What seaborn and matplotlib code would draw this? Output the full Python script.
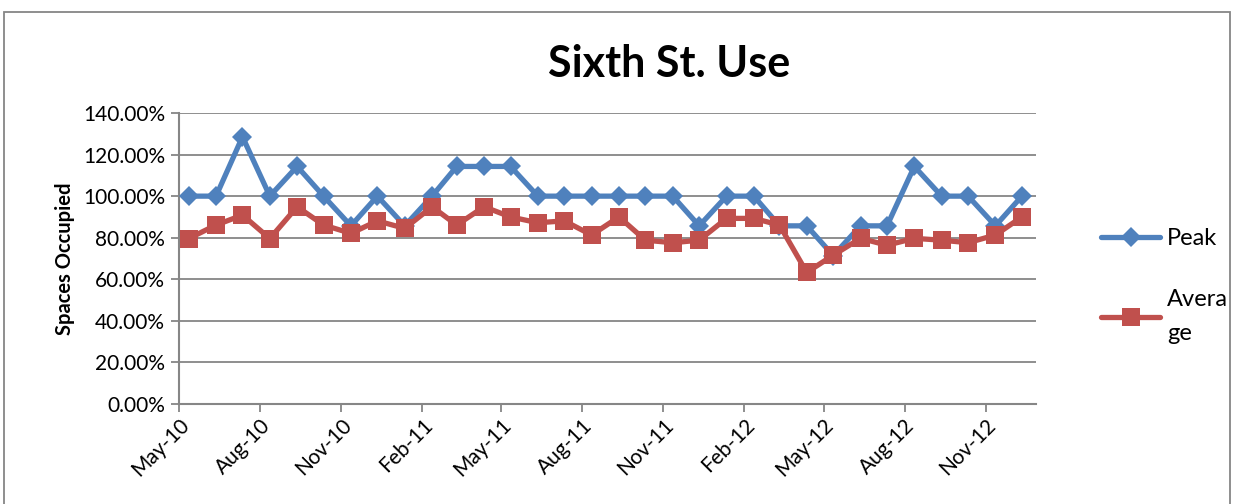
import matplotlib
matplotlib.use("Agg")
import matplotlib.pyplot as plt
import matplotlib.dates as mdates
from matplotlib.patches import Rectangle
from matplotlib.ticker import PercentFormatter, MultipleLocator
import pandas as pd
import seaborn as sns

# monthly readings, May 2010 - Dec 2012
months = ['2010-05', '2010-06', '2010-07', '2010-08', '2010-09', '2010-10',
          '2010-11', '2010-12', '2011-01', '2011-02', '2011-03', '2011-04',
          '2011-05', '2011-06', '2011-07', '2011-08', '2011-09', '2011-10',
          '2011-11', '2011-12', '2012-01', '2012-02', '2012-03', '2012-04',
          '2012-05', '2012-06', '2012-07', '2012-08', '2012-09', '2012-10',
          '2012-11', '2012-12']
peak = [100, 100, 128.57, 100, 114.29, 100, 85.71, 100, 85.71, 100, 114.29, 114.29,
        114.29, 100, 100, 100, 100, 100, 100, 85.71, 100, 100, 85.71, 85.71,
        71.43, 85.71, 85.71, 114.29, 100, 100, 85.71, 100]
average = [79.6, 86.1, 90.9, 79.6, 94.9, 86.1, 82.1, 88.1, 84.5, 94.9, 86.1, 94.9,
           90.0, 87.2, 88.1, 81.3, 90.0, 78.8, 77.6, 78.8, 89.3, 89.3, 86.1, 63.3,
           71.6, 79.7, 76.4, 79.7, 78.8, 77.6, 81.3, 90.0]
series_names = ['Peak', 'Avera\nge']

dates = pd.to_datetime(months) + pd.Timedelta(days=11)
df = pd.concat([
    pd.DataFrame({'month': dates, 'value': peak, 'series': series_names[0]}),
    pd.DataFrame({'month': dates, 'value': average, 'series': series_names[1]}),
])

sns.set_style('white')
plt.rcParams['font.family'] = ['Lato', 'DejaVu Sans']
plt.rcParams['text.color'] = 'black'
plt.rcParams['xtick.color'] = 'black'
plt.rcParams['ytick.color'] = 'black'
plt.rcParams['axes.labelcolor'] = 'black'

blue = '#4F81BD'
red = '#C0504D'
grid_gray = '#868686'

fig = plt.figure(figsize=(12.35, 5.04), dpi=100)
ax = fig.add_axes([179 / 1235, 1 - 404 / 504, (1036 - 179) / 1235, (404 - 113) / 504])

sns.lineplot(data=df[df.series == series_names[0]], x='month', y='value', ax=ax,
             color=blue, marker='D', markersize=10.5, markeredgewidth=0,
             linewidth=3.8, label=series_names[0], zorder=3)
sns.lineplot(data=df[df.series == series_names[1]], x='month', y='value', ax=ax,
             color=red, marker='s', markersize=13, markeredgewidth=0,
             linewidth=3.8, label=series_names[1], zorder=4)

ax.set_ylim(0, 140)
ax.yaxis.set_major_locator(MultipleLocator(20))
ax.yaxis.set_major_formatter(PercentFormatter(xmax=100, decimals=2))
ax.set_xlim(pd.Timestamp('2010-05-01'), pd.Timestamp('2012-12-28'))
ax.xaxis.set_major_locator(mdates.MonthLocator(bymonth=[2, 5, 8, 11]))
ax.xaxis.set_major_formatter(mdates.DateFormatter('%b-%y'))

ax.yaxis.grid(True, color=grid_gray, linewidth=1.3)
ax.set_axisbelow(True)
for side in ['top', 'right']:
    ax.spines[side].set_visible(False)
for side in ['left', 'bottom']:
    ax.spines[side].set_color(grid_gray)
    ax.spines[side].set_linewidth(1.5)

ax.tick_params(axis='both', which='major', color=grid_gray, length=6, width=1.3,
               direction='out', left=True, bottom=True, labelcolor='black')
ax.tick_params(axis='y', labelsize=15, pad=4)
ax.tick_params(axis='x', labelsize=15, pad=2)
plt.setp(ax.get_xticklabels(), rotation=45, ha='right', rotation_mode='anchor')

ax.set_xlabel(None)
ax.set_ylabel('Spaces Occupied', fontsize=14.5, fontweight='bold', labelpad=6)
fig.text(669 / 1235, 1 - 64 / 504, 'Sixth St. Use', ha='center', va='center',
         fontsize=31, fontweight='bold')

ax.get_legend().remove()
handles, labels = ax.get_legend_handles_labels()
leg = fig.legend(handles, labels, loc='center left',
                 bbox_to_anchor=(1080 / 1235, 1 - 286 / 504),
                 frameon=False, fontsize=17, handlelength=2.5, labelspacing=1.7,
                 handletextpad=0.3)
for t in leg.get_texts():
    t.set_linespacing(1.75)

fig.patches.append(Rectangle((4 / 1235, -0.05), 1226 / 1235, 1.05 - 12 / 504,
                             transform=fig.transFigure, fill=False,
                             edgecolor=grid_gray, linewidth=1.3))

plt.savefig('out.png', dpi=100)
